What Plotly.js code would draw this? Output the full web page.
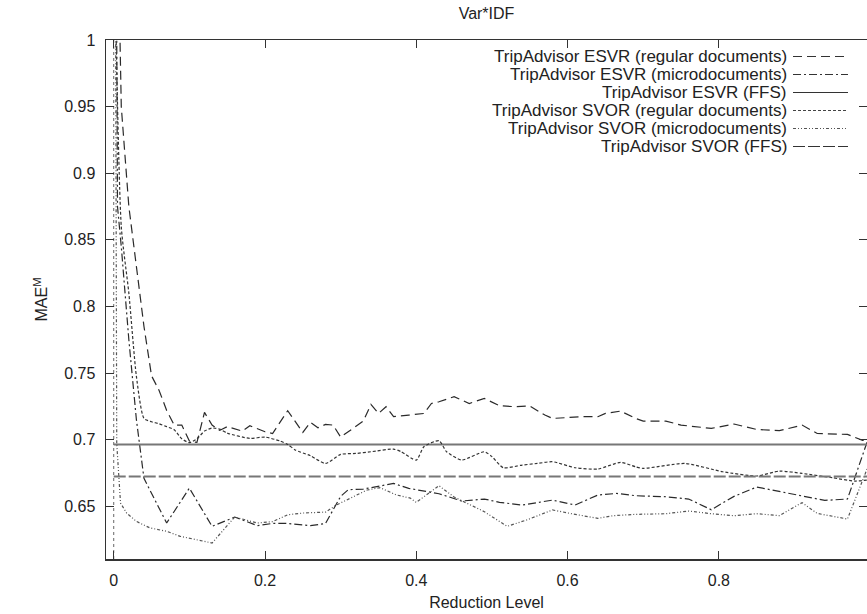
<!DOCTYPE html>
<html>
<head>
<meta charset="utf-8">
<script src="https://cdn.plot.ly/plotly-3.0.1.min.js"></script>
<style>html,body{margin:0;padding:0;background:#fff;overflow:hidden}#chart{width:867px;height:614px}</style>
</head>
<body>
<div id="chart"></div>
<script>
// ---- Data ----
const esvrRegX = [0.00,0.01,0.02,0.03,0.04,0.05,0.06,0.07,0.08,0.09,0.10,0.11,0.12,0.13,0.14,0.15,0.17,0.18,0.20,0.21,0.23,0.25,0.26,0.27,0.28,0.29,0.30,0.31,0.33,0.34,0.35,0.36,0.37,0.39,0.41,0.42,0.43,0.45,0.47,0.49,0.51,0.53,0.55,0.57,0.58,0.62,0.64,0.65,0.67,0.69,0.70,0.73,0.75,0.79,0.82,0.85,0.88,0.91,0.93,0.97,0.99,1.00];
const esvrRegY = [1.25,0.95,0.875,0.83,0.785,0.748,0.737,0.722,0.711,0.711,0.699,0.698,0.7205,0.711,0.707,0.7098,0.7065,0.7105,0.706,0.7047,0.7218,0.7055,0.713,0.709,0.7115,0.711,0.702,0.706,0.714,0.7265,0.7197,0.7248,0.7173,0.7185,0.7197,0.7272,0.7285,0.7323,0.7272,0.731,0.7255,0.7248,0.7253,0.7185,0.716,0.7173,0.7173,0.7198,0.7215,0.716,0.714,0.714,0.711,0.7085,0.7118,0.7077,0.7068,0.711,0.7047,0.704,0.6995,0.699];

const esvrMicroX = [0.000,0.005,0.01,0.02,0.03,0.04,0.07,0.10,0.13,0.16,0.19,0.21,0.23,0.26,0.28,0.30,0.31,0.33,0.37,0.39,0.43,0.46,0.49,0.51,0.54,0.58,0.61,0.64,0.665,0.69,0.73,0.76,0.79,0.82,0.85,0.88,0.91,0.94,0.97,1.00];
const esvrMicroY = [1.5,0.875,0.845,0.775,0.715,0.671,0.6375,0.6637,0.635,0.642,0.6355,0.6372,0.6372,0.6355,0.6372,0.6575,0.6625,0.663,0.6672,0.6635,0.6595,0.654,0.6555,0.653,0.651,0.6547,0.651,0.6585,0.6597,0.658,0.6572,0.6555,0.6475,0.6575,0.6645,0.6612,0.6575,0.6545,0.6555,0.705];

const esvrFfsX = [0, 1];
const esvrFfsY = [0.6965, 0.6965];

const svorRegX = [0.00,0.01,0.02,0.03,0.04,0.05,0.06,0.07,0.08,0.09,0.10,0.11,0.12,0.13,0.14,0.15,0.18,0.20,0.22,0.23,0.24,0.26,0.28,0.30,0.32,0.34,0.37,0.38,0.40,0.41,0.43,0.44,0.46,0.49,0.50,0.515,0.54,0.56,0.58,0.61,0.64,0.67,0.69,0.70,0.755,0.805,0.85,0.88,0.91,0.95,0.98,1.00];
const svorRegY = [1.1,0.86,0.81,0.7475,0.716,0.7135,0.712,0.7098,0.7075,0.7007,0.6978,0.7007,0.7065,0.7088,0.708,0.705,0.701,0.702,0.699,0.6965,0.6923,0.688,0.6822,0.689,0.6897,0.691,0.693,0.691,0.6847,0.6947,0.6993,0.691,0.6848,0.691,0.6873,0.679,0.681,0.6822,0.6835,0.679,0.678,0.683,0.6797,0.6785,0.6822,0.676,0.6728,0.6765,0.6747,0.6715,0.669,0.67];

const svorMicroX = [0.000,0.004,0.009,0.017,0.03,0.048,0.07,0.088,0.105,0.13,0.16,0.19,0.21,0.23,0.25,0.28,0.295,0.31,0.335,0.352,0.374,0.392,0.40,0.43,0.45,0.49,0.52,0.546,0.58,0.61,0.64,0.66,0.69,0.73,0.76,0.79,0.82,0.85,0.88,0.91,0.93,0.97,1.00];
const svorMicroY = [1.55,0.697,0.6525,0.645,0.6387,0.6338,0.6313,0.6275,0.6255,0.6225,0.642,0.6375,0.6385,0.6437,0.645,0.6457,0.6512,0.6555,0.6623,0.664,0.6585,0.6562,0.653,0.6655,0.657,0.646,0.635,0.6398,0.6473,0.644,0.641,0.643,0.644,0.6445,0.6465,0.6445,0.643,0.6445,0.643,0.6528,0.6447,0.6405,0.684];

const svorFfsX = [0, 1];
const svorFfsY = [0.6725, 0.6725];

const seriesNames = [
  'TripAdvisor ESVR (regular documents)',
  'TripAdvisor ESVR (microdocuments)',
  'TripAdvisor ESVR (FFS)',
  'TripAdvisor SVOR (regular documents)',
  'TripAdvisor SVOR (microdocuments)',
  'TripAdvisor SVOR (FFS)'
];
const xTickVals = [0, 0.2, 0.4, 0.6, 0.8];
const xTickText = ['0', '0.2', '0.4', '0.6', '0.8'];
const yTickVals = [0.65, 0.7, 0.75, 0.8, 0.85, 0.9, 0.95, 1];
const yTickText = ['0.65', '0.7', '0.75', '0.8', '0.85', '0.9', '0.95', '1'];

// ---- Styles ----
const styles = [
  {color:'#2a2a2a', width:1.2, dash:'9px,5px', shape:'linear'},
  {color:'#2a2a2a', width:1.2, dash:'8px,3px,2px,3px', shape:'linear'},
  {color:'#777777', width:2, dash:'solid', shape:'linear'},
  {color:'#333333', width:1.2, dash:'3px,2px', shape:'spline'},
  {color:'#555555', width:1.2, dash:'3px,2px,1px,2px,1px,2px', shape:'linear'},
  {color:'#777777', width:2, dash:'12px,3px', shape:'linear'}
];
const legendStyles = [
  {color:'#333', width:1.2, dash:'9px,5px'},
  {color:'#333', width:1.2, dash:'8px,3px,2px,3px'},
  {color:'#333', width:1.2, dash:'solid'},
  {color:'#444', width:1.2, dash:'3px,2px'},
  {color:'#555', width:1.2, dash:'3px,2px,1px,2px,1px,2px'},
  {color:'#333', width:1.2, dash:'12px,3px'}
];

const xs = [esvrRegX, esvrMicroX, esvrFfsX, svorRegX, svorMicroX, svorFfsX];
const ys = [esvrRegY, esvrMicroY, esvrFfsY, svorRegY, svorMicroY, svorFfsY];

const traces = xs.map((xv, i) => ({
  type: 'scatter', mode: 'lines', name: seriesNames[i],
  x: xv, y: ys[i], showlegend: false, cliponaxis: true,
  line: {color: styles[i].color, width: styles[i].width, dash: styles[i].dash, shape: styles[i].shape, smoothing: 0.6}
}));

// ---- Layout ----
const W = 867, H = 614;
const M = {l:106, r:0, t:40, b:55};
const pw = W - M.l - M.r, ph = H - M.t - M.b;
const px2paperX = p => (p - M.l) / pw;
const px2paperY = p => (H - M.b - p) / ph;

const annotations = [];
const shapes = [
  {type:'line', xref:'x', yref:'paper', x0:0, x1:0, y0:0, y1:1,
   line:{color:'#666', width:1, dash:'dot'}, layer:'below'}
];
seriesNames.forEach((n, i) => {
  const yp = px2paperY(56.5 + 18 * i);
  annotations.push({text:n, xref:'paper', yref:'paper', x:px2paperX(789), y:yp,
    xanchor:'right', yanchor:'middle', showarrow:false,
    font:{family:'Liberation Sans, Arial, sans-serif', size:17, color:'#222'}});
  shapes.push({type:'line', xref:'paper', yref:'paper', x0:px2paperX(793), x1:px2paperX(848), y0:yp, y1:yp,
    line:{color:legendStyles[i].color, width:legendStyles[i].width, dash:legendStyles[i].dash}});
});

const fontFam = 'Liberation Sans, Arial, sans-serif';
const layout = {
  width: W, height: H,
  margin: M,
  paper_bgcolor:'#fff', plot_bgcolor:'#fff',
  font:{family:fontFam, size:16, color:'#222'},
  title:{text:'Var*IDF', x:0.5, xref:'paper', y:1 - 13/H, yref:'container', yanchor:'middle',
         font:{family:fontFam, size:16, color:'#222'}},
  xaxis:{range:[-0.0102, 0.9958], tickvals:xTickVals, ticktext:xTickText,
    ticks:'inside', ticklen:8, tickwidth:1, tickcolor:'#333',
    showline:true, linecolor:'#333', linewidth:1.5, mirror:'ticks',
    showgrid:false, zeroline:false, ticklabelstandoff:6,
    tickfont:{family:fontFam, size:16, color:'#222'},
    title:{text:'Reduction Level', standoff:9, font:{family:fontFam, size:16, color:'#222'}}},
  yaxis:{range:[0.6105, 1.0], tickvals:yTickVals, ticktext:yTickText,
    ticks:'inside', ticklen:8, tickwidth:1, tickcolor:'#333',
    showline:true, linecolor:'#333', linewidth:1.5, mirror:'ticks',
    showgrid:false, zeroline:false, ticklabelstandoff:6,
    tickfont:{family:fontFam, size:16, color:'#222'},
    title:{text:'MAE<sup>M</sup>', standoff:12, font:{family:fontFam, size:16, color:'#222'}}},
  annotations: annotations,
  shapes: shapes,
  showlegend:false
};

Plotly.newPlot('chart', traces, layout, {staticPlot:true, displayModeBar:false});
</script>
</body>
</html>
